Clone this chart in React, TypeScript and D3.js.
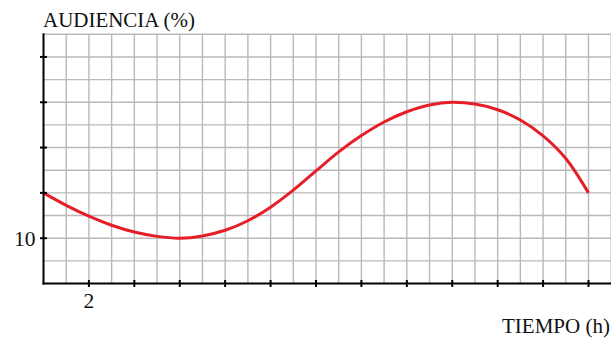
import React from "react";
import * as d3 from "d3";

const hours = [0,1,2,3,4,5,6,7,8,9,10,11,12,13,14,15,16,17,18,19,20,21,22,23,24];
const audience = [12,11.45,10.97,10.57,10.27,10.08,10.0,10.1,10.35,10.77,11.37,12.12,12.97,13.81,14.53,15.13,15.58,15.88,16.0,15.92,15.67,15.22,14.52,13.52,12];
const xTicks = [2,4,6,8,10,12,14,16,18,20,22,24];
const yTicks = [10,12,14,16,18];
const xLabels = [2];
const yLabels = [10];
const gridX = d3.range(1, 26);
const gridY = d3.range(9, 20);

const FONT = { fontFamily: '"Liberation Serif"' };

export default function App() {
  const W = 611, H = 338;
  const x = d3.scaleLinear().domain([0, 25]).range([43.5, 611.2]);
  const y = d3.scaleLinear().domain([8, 19]).range([283.5, 34.3]);
  const line = d3.line<number>()
    .x((_, i) => x(hours[i]))
    .y((d) => y(d))
    .curve(d3.curveCatmullRom.alpha(0.5));
  return (
    <svg width={W} height={H} style={{ position: "absolute", left: 0, top: 0, background: "#fff" }}>
      <g stroke="#b9b9bd" strokeWidth={1.4}>
        {gridX.map((t) => (
          <line key={"gx" + t} x1={x(t)} x2={x(t)} y1={y(19)} y2={y(8)} />
        ))}
        {gridY.map((v) => (
          <line key={"gy" + v} x1={x(0)} x2={x(25)} y1={y(v)} y2={y(v)} />
        ))}
      </g>
      <path d={line(audience) || ""} fill="none" stroke="#e61e28" strokeWidth={3} />
      <g stroke="#000" strokeWidth={2}>
        <line x1={x(0)} x2={x(0)} y1={y(19) - 1} y2={y(8) + 1} />
        <line x1={x(0) - 1} x2={x(25)} y1={y(8)} y2={y(8)} />
        {xTicks.map((t) => (
          <line key={"xt" + t} x1={x(t)} x2={x(t)} y1={y(8) - 3.5} y2={y(8) + 3.5} />
        ))}
        {yTicks.map((v) => (
          <line key={"yt" + v} x1={x(0) - 3.5} x2={x(0) + 3.5} y1={y(v)} y2={y(v)} />
        ))}
      </g>
      <g fill="#111">
        {xLabels.map((t) => (
          <text key={"xl" + t} x={x(t)} y={308} fontSize={21.5} textAnchor="middle" style={FONT}>{t}</text>
        ))}
        {yLabels.map((v) => (
          <text key={"yl" + v} x={35.5} y={y(v) + 7.5} fontSize={21.5} textAnchor="end" style={FONT}>{v}</text>
        ))}
        <text x={43} y={26.5} fontSize={20} textLength={152} lengthAdjust="spacingAndGlyphs" style={FONT}>AUDIENCIA (%)</text>
        <text x={502} y={333} fontSize={20} textLength={108} lengthAdjust="spacingAndGlyphs" style={FONT}>TIEMPO (h)</text>
      </g>
    </svg>
  );
}
